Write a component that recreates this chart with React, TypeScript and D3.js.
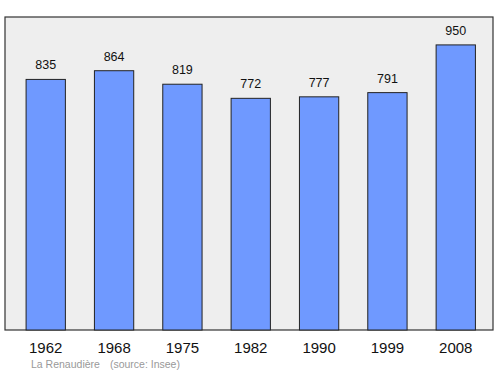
import React from "react";
import * as d3 from "d3";

const years = ["1962", "1968", "1975", "1982", "1990", "1999", "2008"];
const population = [835, 864, 819, 772, 777, 791, 950];
const footerName = "La Renaudière";
const footerSource = "(source: Insee)";

export default function App() {
  const W = 500, H = 374;
  const plot = { left: 5, right: 493, top: 17, bottom: 330 };
  const x = d3.scaleBand<string>().domain(years).range([9, 492.5]).paddingInner(0.425).paddingOuter(0.25);
  const y = d3.scaleLinear().domain([0, 1043]).range([plot.bottom, plot.top]);
  const font = "'Liberation Sans', Arial, sans-serif";
  return (
    <svg width={W} height={H} style={{ position: "absolute", left: 0, top: 0 }} fontFamily={font}>
      <rect x={plot.left} y={plot.top} width={plot.right - plot.left} height={plot.bottom - plot.top}
        fill="#eeeeee" stroke="#333" strokeWidth={1.2} />
      {years.map((yr, i) => {
        const bx = x(yr)!;
        const v = population[i];
        return (
          <g key={yr}>
            <rect x={bx} y={y(v)} width={x.bandwidth()} height={plot.bottom - y(v)}
              fill="#6f99ff" stroke="#222" strokeWidth={1} />
            <text x={bx + x.bandwidth() / 2} y={y(v) - 10} textAnchor="middle" fontSize={12.5} fill="#111">{v}</text>
            <text x={bx + x.bandwidth() / 2} y={353} textAnchor="middle" fontSize={15} fill="#111">{yr}</text>
          </g>
        );
      })}
      <text x={31} y={368} fontSize={10.5} fill="#999">
        {footerName}
        <tspan dx={10}>{footerSource}</tspan>
      </text>
    </svg>
  );
}
